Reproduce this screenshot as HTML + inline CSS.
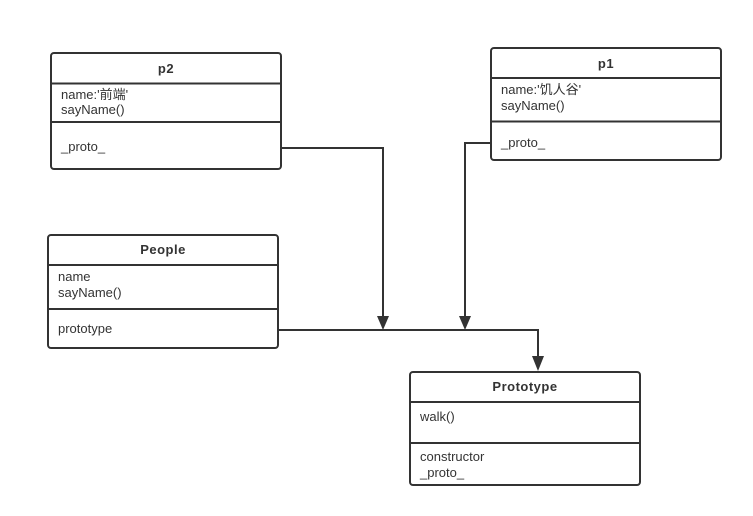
<!DOCTYPE html>
<html><head><meta charset="utf-8"><style>
html,body{margin:0;padding:0;background:#fff;}
svg{display:block;}
text{font-family:"Liberation Sans","Noto Sans CJK SC",sans-serif;font-size:13px;fill:#333;}
.t{font-weight:bold;letter-spacing:0.5px;}
</style></head><body>
<svg width="753" height="516" viewBox="0 0 753 516" xmlns="http://www.w3.org/2000/svg">
<g fill="none" stroke="#333" stroke-width="2">
<rect x="51" y="53" width="230" height="116" rx="3"/>
<line x1="51" y1="83.5" x2="281" y2="83.5"/>
<line x1="51" y1="122" x2="281" y2="122"/>
<rect x="491" y="48" width="230" height="112" rx="3"/>
<line x1="491" y1="78" x2="721" y2="78"/>
<line x1="491" y1="121.5" x2="721" y2="121.5"/>
<rect x="48" y="235" width="230" height="113" rx="3"/>
<line x1="48" y1="265" x2="278" y2="265"/>
<line x1="48" y1="309" x2="278" y2="309"/>
<rect x="410" y="372" width="230" height="113" rx="3"/>
<line x1="410" y1="402" x2="640" y2="402"/>
<line x1="410" y1="443" x2="640" y2="443"/>
<polyline points="281,148 383,148 383,318"/>
<polyline points="491,143 465,143 465,318"/>
<polyline points="278,330 538,330 538,358"/>
</g>
<g fill="#333">
<polygon points="377,316 389,316 383,330"/>
<polygon points="459,316 471,316 465,330"/>
<polygon points="532,356 544,356 538,371"/>
</g>
<text class="t" x="166" y="73" text-anchor="middle">p2</text>
<text x="61" y="99">name:'前端'</text>
<text x="61" y="114">sayName()</text>
<text x="61" y="151">_proto_</text>
<text class="t" x="606" y="68" text-anchor="middle">p1</text>
<text x="501" y="94">name:'饥人谷'</text>
<text x="501" y="110">sayName()</text>
<text x="501" y="147">_proto_</text>
<text class="t" x="163" y="254" text-anchor="middle">People</text>
<text x="58" y="281">name</text>
<text x="58" y="297">sayName()</text>
<text x="58" y="333">prototype</text>
<text class="t" x="525" y="391" text-anchor="middle">Prototype</text>
<text x="420" y="421">walk()</text>
<text x="420" y="461">constructor</text>
<text x="420" y="477">_proto_</text>
</svg>
</body></html>
